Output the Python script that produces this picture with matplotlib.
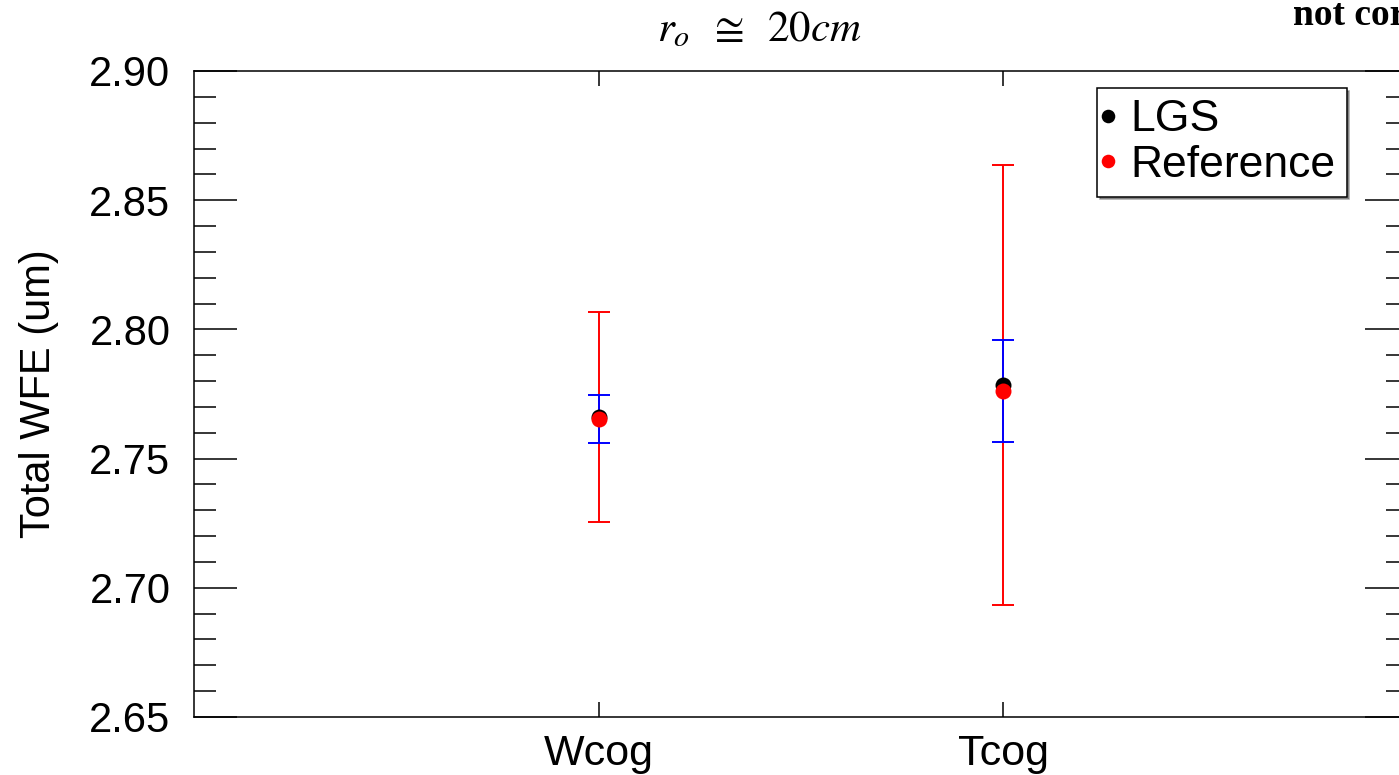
import numpy as np
import matplotlib
matplotlib.use("Agg")
import matplotlib.pyplot as plt
from matplotlib.ticker import MultipleLocator

plt.rcParams.update({
    "font.family": ["Liberation Sans", "DejaVu Sans"],
    "mathtext.fontset": "stix",
    "axes.linewidth": 1.1,
})

# --- Data ---
methods = ["Wcog", "Tcog"]
lgs_wfe = [2.7660, 2.7785]
lgs_err = [0.0406, 0.0853]
ref_wfe = [2.7652, 2.7762]
ref_err = [0.0093, 0.0196]

x = np.arange(1, len(methods) + 1)

W, H = 1399, 775
fig = plt.figure(figsize=(W / 100, H / 100), dpi=100)
# right spine sits just past the figure edge
ax = fig.add_axes([194 / W, 58 / H, 1214 / W, 646 / H])

ax.errorbar(x, lgs_wfe, yerr=lgs_err, fmt="none", ecolor="#ff0000",
            elinewidth=1.4, capsize=8, capthick=1.4, zorder=2)
ax.errorbar(x, ref_wfe, yerr=ref_err, fmt="none", ecolor="#0000ff",
            elinewidth=1.4, capsize=8, capthick=1.4, zorder=3)
ax.plot(x, lgs_wfe, "o", color="black", ms=11.5, mec="none", label="LGS", zorder=4)
ax.plot(x, ref_wfe, "o", color="#ff0000", ms=11.5, mec="none", label="Reference", zorder=5)

ax.set_xlim(0, 3)
ax.set_ylim(2.65, 2.90)
ax.set_xticks(x)
ax.set_xticklabels(methods)
ax.yaxis.set_major_locator(MultipleLocator(0.05))
ax.yaxis.set_minor_locator(MultipleLocator(0.01))
ax.yaxis.set_major_formatter(matplotlib.ticker.FormatStrFormatter("%.2f"))

ax.tick_params(axis="y", which="major", direction="in", length=31, width=1.1,
               left=True, right=True, labelsize=30, pad=17)
ax.tick_params(axis="y", which="minor", direction="in", length=16, width=1.1,
               left=True, right=True)
ax.tick_params(axis="x", which="major", direction="in", length=11, width=1.1,
               top=True, bottom=True, labelsize=31, pad=12)

ax.set_ylabel("Total WFE (um)", fontsize=30, labelpad=22)

leg = ax.legend(loc="upper left", bbox_to_anchor=(1097 / W, 1 - 88 / H),
                bbox_transform=fig.transFigure, fontsize=32, frameon=True,
                fancybox=False, shadow=True, edgecolor="black", framealpha=1,
                handlelength=0.0, handletextpad=0.5, borderpad=0.25,
                labelspacing=0.1, borderaxespad=0, markerscale=0.85)
leg.get_frame().set_linewidth(1.1)

fig.text(759 / W, 1 - 30 / H, r"$r_o\;\;\cong\;\;20cm$", fontsize=31,
         ha="center", va="center")
fig.text(1293 / W, 1 - 25 / H, "not corrected", fontsize=27,
         family="Liberation Serif", weight="bold", ha="left", va="baseline")

fig.savefig("out.png", dpi=100)
